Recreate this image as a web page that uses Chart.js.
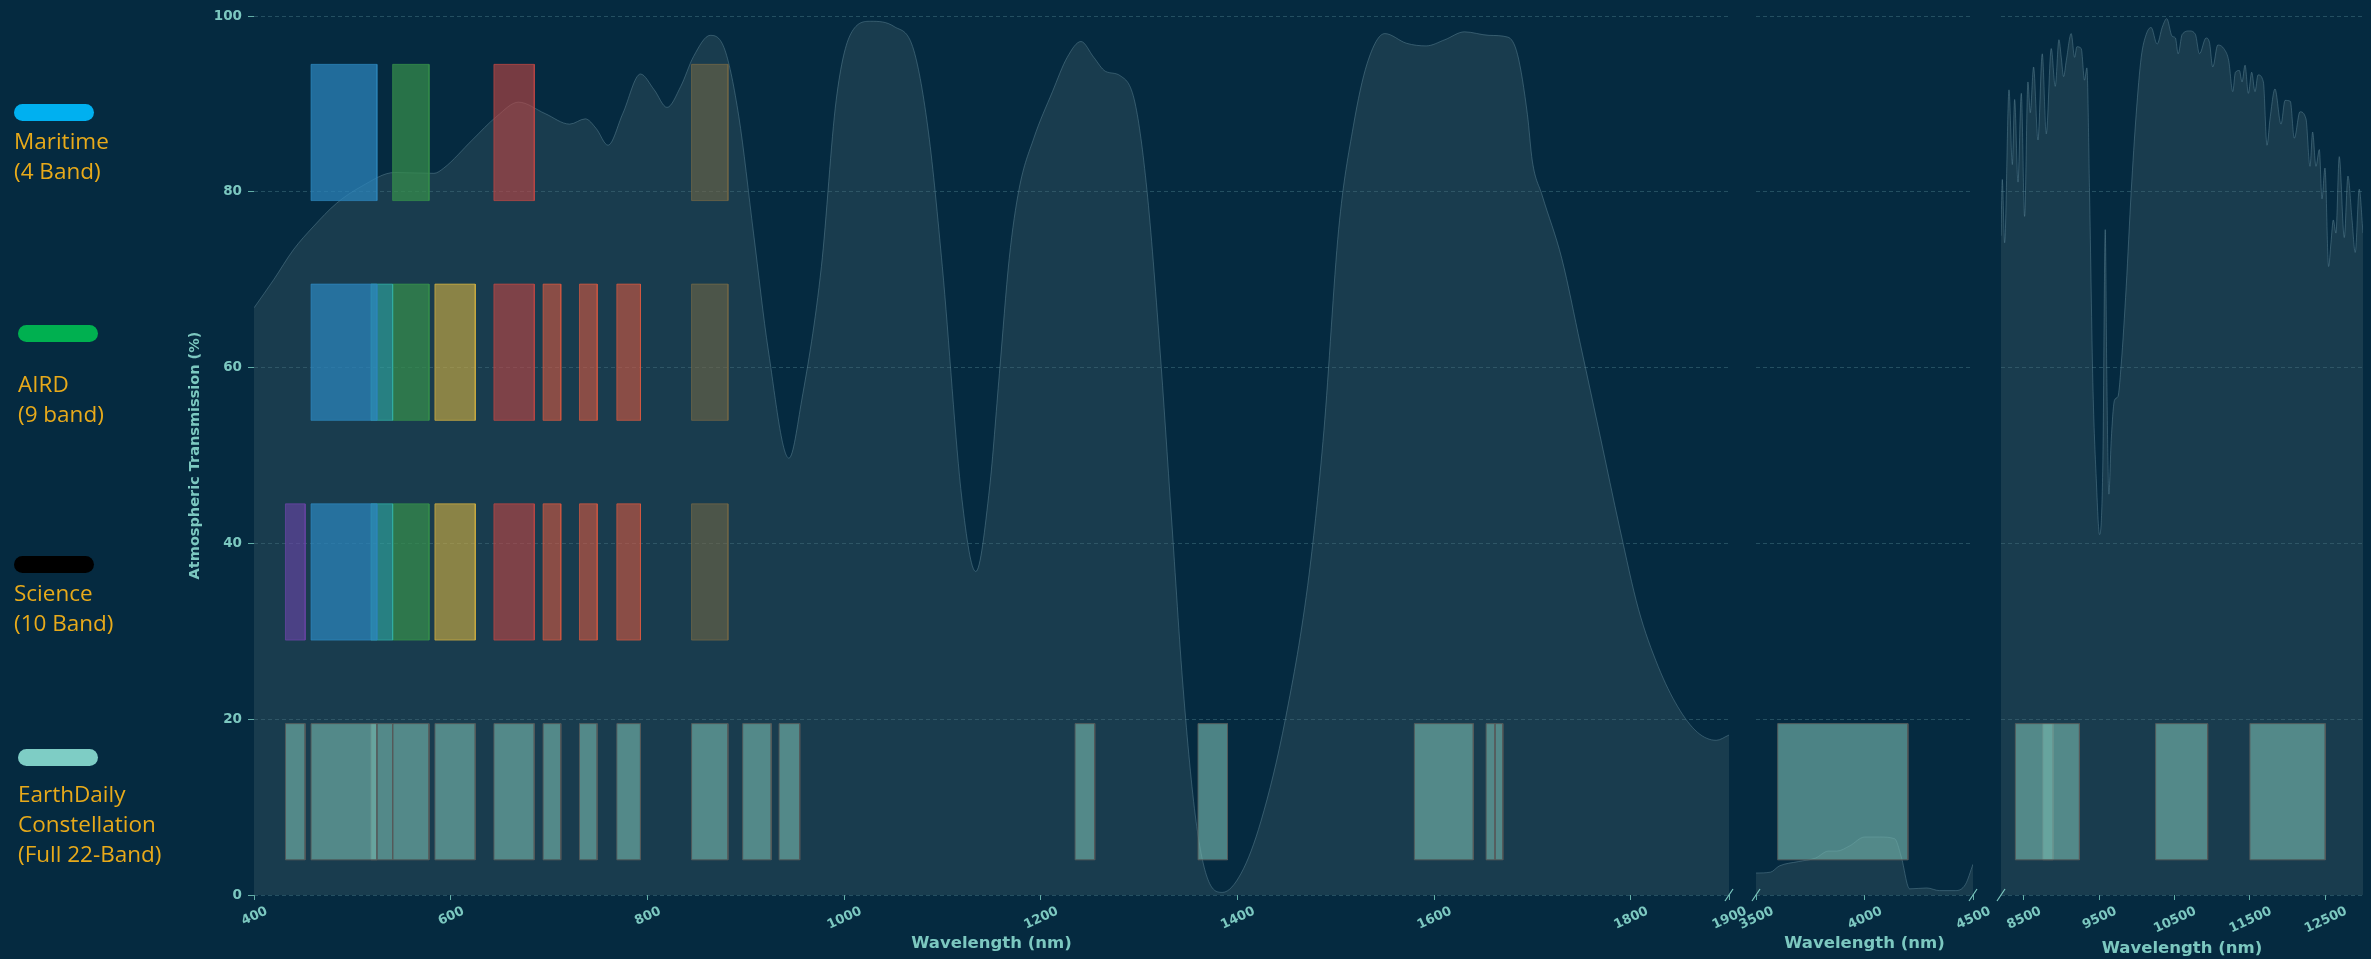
<!DOCTYPE html>
<html>
<head>
<meta charset="utf-8">
<title>Band sets vs atmospheric transmission</title>
<script src="https://cdn.jsdelivr.net/npm/chart.js@4.4.1/dist/chart.umd.min.js"></script>
<style>
  html, body { margin: 0; padding: 0; background: #052a40; }
  #wrap { position: relative; width: 2371px; height: 959px; overflow: hidden; }
  #wrap canvas { position: absolute; left: 0; top: 0; }
  .pill { position: absolute; width: 80px; height: 17px; border-radius: 9px; }
  .lbl { position: absolute; color: #e8aa1a; font-family: 'Open Sans', sans-serif; font-size: 22.5px; line-height: 30px; white-space: nowrap; }
</style>
</head>
<body>
<div id="wrap">
  <canvas id="c-vnir" width="2371" height="959"></canvas>
  <canvas id="c-mwir" width="2371" height="959"></canvas>
  <canvas id="c-lwir" width="2371" height="959"></canvas>
</div>
<script>
// ---- data ----
// transmission curve, 400-1900 nm
const vnirWl = [
  400, 420, 440, 460, 484, 509, 543, 583, 593, 622,
  647, 669, 696, 721, 737, 748, 760, 775, 793, 807,
  820, 834, 847, 864, 879, 893, 908, 923, 944, 957,
  977, 992, 1007, 1027, 1051, 1071, 1086, 1100, 1120, 1134,
  1148, 1158, 1168, 1178, 1193, 1212, 1227, 1241, 1254, 1266,
  1281, 1296, 1308, 1321, 1333, 1345, 1358, 1370, 1385, 1404,
  1424, 1449, 1473, 1488, 1503, 1518, 1532, 1550, 1572, 1592,
  1611, 1631, 1656, 1675, 1685, 1695, 1700, 1710, 1730, 1749,
  1769, 1789, 1808, 1828, 1848, 1868, 1887, 1900
];
const vnirT = [
  66.8, 70.0, 73.4, 76.0, 78.7, 80.6, 82.2, 82.1, 82.7, 85.9,
  88.6, 90.2, 88.9, 87.7, 88.3, 87.2, 85.3, 88.9, 93.4, 91.6,
  89.6, 92.0, 95.4, 97.8, 96.1, 88.6, 75.3, 62.0, 49.7, 56.3,
  71.5, 90.4, 98.0, 99.4, 98.8, 96.1, 86.7, 71.5, 45.0, 36.8,
  46.3, 59.3, 72.4, 80.3, 86.1, 91.4, 95.3, 97.1, 95.3, 93.7,
  93.2, 90.1, 80.3, 62.6, 43.0, 23.4, 8.4, 1.8, 0.3, 2.5,
  8.4, 20.1, 36.5, 52.8, 75.7, 87.5, 94.6, 98.0, 96.9, 96.6,
  97.3, 98.2, 97.8, 97.6, 95.6, 88.8, 83.5, 79.6, 72.4, 62.6,
  52.2, 41.7, 32.5, 26.0, 21.4, 18.5, 17.6, 18.2
];

// transmission curve, 3500-4500 nm
const mwirWl = [3500, 3567, 3607, 3695, 3774, 3834, 3873, 3932, 4001, 4070, 4139, 4169, 4208, 4287, 4346, 4419, 4465, 4500];
const mwirT  = [2.5, 2.6, 3.3, 3.8, 4.2, 5.0, 5.0, 5.6, 6.6, 6.6, 6.4, 4.4, 0.7, 0.8, 0.5, 0.5, 1.2, 3.5];

// transmission curve, 8200-13000 nm
const lwirWl = [
  8200, 8217, 8248, 8306, 8350, 8381, 8425, 8469, 8513, 8557,
  8588, 8632, 8690, 8747, 8800, 8866, 8919, 8968, 8999, 9030,
  9065, 9131, 9176, 9206, 9264, 9308, 9339, 9374, 9418, 9463,
  9507, 9551, 9582, 9604, 9630, 9661, 9705, 9750, 9794, 9860,
  9926, 9992, 10059, 10125, 10191, 10270, 10337, 10398, 10469, 10513,
  10549, 10602, 10699, 10778, 10831, 10919, 10964, 11008, 11074, 11162,
  11220, 11273, 11308, 11361, 11396, 11436, 11480, 11524, 11568, 11608,
  11679, 11727, 11767, 11833, 11913, 11966, 12036, 12089, 12164, 12244,
  12297, 12332, 12376, 12421, 12456, 12496, 12544, 12575, 12606, 12641,
  12685, 12752, 12800, 12853, 12897, 12950, 13000
];
const lwirT = [
  75.0, 81.4, 74.2, 91.6, 83.1, 90.5, 81.1, 91.2, 77.2, 92.5,
  89.0, 94.2, 85.9, 95.7, 86.6, 96.3, 92.0, 97.3, 95.3, 93.1,
  94.9, 98.0, 95.3, 96.5, 96.3, 92.7, 94.1, 80.0, 58.3, 47.4,
  41.0, 49.5, 75.7, 58.3, 45.6, 51.7, 56.3, 56.7, 60.4, 69.2,
  80.0, 88.8, 95.3, 97.9, 98.7, 96.8, 98.7, 99.7, 97.7, 97.5,
  95.7, 97.9, 98.3, 97.9, 95.7, 97.5, 97.0, 94.2, 96.7, 96.2,
  94.9, 91.4, 93.6, 93.8, 92.5, 94.4, 91.2, 93.6, 91.4, 93.3,
  92.5, 85.3, 88.3, 91.7, 87.7, 90.4, 90.3, 86.1, 89.1, 88.3,
  82.9, 86.8, 82.9, 84.8, 79.2, 82.7, 71.5, 74.2, 76.8, 75.3,
  84.0, 74.8, 81.8, 77.0, 73.1, 80.3, 75.3
];

// spectral bands (nm)
const bandNames = ['Coastal', 'Blue', 'Green I', 'Green', 'Yellow', 'Red', 'Red Edge 1', 'Red Edge 2', 'Red Edge 3', 'NIR'];
const bandLo    = [432, 458, 519, 541, 584, 644, 694, 731, 769, 845];
const bandHi    = [452, 525, 541, 578, 625, 685, 712, 749, 793, 882];

const maritimeBands = ['Blue', 'Green', 'Red', 'NIR'];
const airdBands     = ['Blue', 'Green I', 'Green', 'Yellow', 'Red', 'Red Edge 1', 'Red Edge 2', 'Red Edge 3', 'NIR'];
const scienceBands  = ['Coastal', 'Blue', 'Green I', 'Green', 'Yellow', 'Red', 'Red Edge 1', 'Red Edge 2', 'Red Edge 3', 'NIR'];

// EarthDaily constellation, all 22 bands
const edLo = [432, 458, 519, 541, 584, 644, 694, 731, 769, 845, 897, 934, 1235, 1360, 1580, 1653, 1662, 3600, 8390, 8755, 10250, 11500];
const edHi = [452, 525, 541, 578, 625, 685, 712, 749, 793, 882, 926, 955, 1255, 1390, 1640, 1662, 1670, 4200, 9240, 8890, 10940, 12500];

// rows (transmission % units on the y axis)
const rowLo = [79, 54, 29, 4];
const rowHi = [94.5, 69.5, 44.5, 19.5];

const groupLines  = [['Maritime', '(4 Band)'], ['AIRD', '(9 band)'], ['Science', '(10 Band)'], ['EarthDaily', 'Constellation', '(Full 22-Band)']];
const groupSwatch = ['#00b0f0', '#00b050', '#000000', '#7ecdc5'];

const ticksVnir = [400, 600, 800, 1000, 1200, 1400, 1600, 1800, 1900];
const ticksMwir = [3500, 4000, 4500];
const ticksLwir = [8500, 9500, 10500, 11500, 12500];

// ---- styling ----
const bandRgb = {
  'Coastal':    [110, 70, 170, 0.6],
  'Blue':       [45, 135, 190, 0.72],
  'Green I':    [50, 175, 165, 0.6],
  'Green':      [55, 145, 75, 0.7],
  'Yellow':     [215, 180, 65, 0.6],
  'Red':        [195, 72, 68, 0.6],
  'Red Edge 1': [215, 90, 65, 0.6],
  'Red Edge 2': [215, 90, 65, 0.6],
  'Red Edge 3': [215, 90, 65, 0.6],
  'NIR':        [120, 105, 70, 0.55]
};
const tealText = '#7cc8c0';
const tickMark = '#62aea6';
const gridColor = 'rgba(95,150,160,0.35)';
const DEG = Math.PI / 180;

// legend on the left
const pillLeft = [14, 18, 14, 18];
const pillTop = [104, 325, 556, 749];
const textTop = [126, 369, 578, 779];
const wrap = document.getElementById('wrap');
groupLines.forEach((lines, i) => {
  const pill = document.createElement('div');
  pill.className = 'pill';
  pill.style.left = pillLeft[i] + 'px';
  pill.style.top = pillTop[i] + 'px';
  pill.style.background = groupSwatch[i];
  wrap.appendChild(pill);
  const lbl = document.createElement('div');
  lbl.className = 'lbl';
  lbl.style.left = pillLeft[i] + 'px';
  lbl.style.top = textTop[i] + 'px';
  lbl.innerHTML = lines.join('<br>');
  wrap.appendChild(lbl);
});

// rotated, centred tick labels + axis break marks
const axisDecor = {
  id: 'axisDecor',
  afterDraw(chart, args, opts) {
    const ctx = chart.ctx;
    const xs = chart.scales.x;
    const base = chart.chartArea.bottom;
    const rot = opts.rotation * DEG;
    ctx.save();
    ctx.fillStyle = tealText;
    ctx.font = "bold 13px 'DejaVu Sans', sans-serif";
    ctx.textAlign = 'center';
    ctx.textBaseline = 'alphabetic';
    xs.ticks.forEach(t => {
      const label = String(t.value);
      const w = ctx.measureText(label).width;
      const h = 9.5;
      const boxH = w * Math.sin(rot) + h * Math.cos(rot);
      ctx.save();
      ctx.translate(xs.getPixelForValue(t.value), base + 10 + boxH / 2);
      ctx.rotate(-rot);
      ctx.fillText(label, 0, h / 2);
      ctx.restore();
    });
    ctx.strokeStyle = tealText;
    ctx.lineWidth = 1.2;
    (opts.breaks || []).forEach(side => {
      const x = side === 'left' ? xs.left : xs.right;
      ctx.beginPath();
      ctx.moveTo(x - 4, base + 6);
      ctx.lineTo(x + 4, base - 6);
      ctx.stroke();
    });
    ctx.restore();
  }
};

function rgba(c, a) {
  return `rgba(${c[0]},${c[1]},${c[2]},${a})`;
}

function boxPoints(lo, hi, yLo, yHi) {
  return [{x: lo, y: yLo}, {x: lo, y: yHi}, {x: hi, y: yHi}, {x: hi, y: yLo}, {x: lo, y: yLo}];
}

function bandDatasets(xMin, xMax) {
  const out = [];
  const rows = [maritimeBands, airdBands, scienceBands];
  rows.forEach((names, r) => {
    names.forEach(name => {
      const i = bandNames.indexOf(name);
      if (bandLo[i] < xMin || bandHi[i] > xMax) return;
      const c = bandRgb[name];
      out.push({
        data: boxPoints(bandLo[i], bandHi[i], rowLo[r], rowHi[r]),
        backgroundColor: rgba(c, c[3]),
        borderColor: rgba(c, 0.7),
        borderWidth: 1,
        fill: 'shape',
        tension: 0,
        pointRadius: 0
      });
    });
  });
  edLo.forEach((lo, i) => {
    if (lo < xMin || edHi[i] > xMax) return;
    out.push({
      data: boxPoints(lo, edHi[i], rowLo[3], rowHi[3]),
      backgroundColor: 'rgba(115,180,170,0.65)',
      borderColor: 'rgba(85,90,90,0.9)',
      borderWidth: 1,
      fill: 'shape',
      tension: 0,
      pointRadius: 0
    });
  });
  return out;
}

function makeChart(id, wl, trans, xMin, xMax, xTicks, pad, axisH, titlePadBottom, showY, breaks) {
  const datasets = bandDatasets(xMin, xMax);
  datasets.push({
    data: wl.map((x, i) => ({x, y: trans[i]})),
    borderColor: 'rgba(100,140,155,0.45)',
    borderWidth: 1,
    backgroundColor: 'rgba(72,102,114,0.3)',
    fill: 'origin',
    pointRadius: 0,
    tension: 0.4,
    cubicInterpolationMode: 'monotone'
  });

  return new Chart(document.getElementById(id), {
    type: 'line',
    data: { datasets },
    plugins: [axisDecor],
    options: {
      responsive: false,
      animation: false,
      events: [],
      layout: { padding: pad, autoPadding: false },
      plugins: {
        legend: { display: false },
        tooltip: { enabled: false },
        axisDecor: { rotation: 25, breaks }
      },
      scales: {
        x: {
          type: 'linear',
          min: xMin,
          max: xMax,
          afterBuildTicks: s => { s.ticks = xTicks.map(v => ({value: v})); },
          ticks: { display: false },
          grid: { drawOnChartArea: false, drawTicks: true, tickLength: 5, tickColor: tickMark, color: tickMark },
          border: { display: false },
          title: {
            display: true,
            text: 'Wavelength (nm)',
            color: tealText,
            font: { family: "'DejaVu Sans', sans-serif", size: 16.5, weight: 'bold' },
            padding: { top: 0, bottom: titlePadBottom }
          },
          afterFit: s => { s.height = axisH; }
        },
        y: {
          min: 0,
          max: 100,
          ticks: {
            display: showY,
            stepSize: 20,
            color: tealText,
            padding: 6,
            font: { family: "'DejaVu Sans', sans-serif", size: 13.5, weight: 'bold' }
          },
          grid: { color: gridColor, lineWidth: 1, drawTicks: showY, tickLength: 6, tickColor: tickMark },
          border: { display: false, dash: [4, 3] },
          title: {
            display: showY,
            text: 'Atmospheric Transmission (%)',
            color: tealText,
            font: { family: "'DejaVu Sans', sans-serif", size: 14.5, weight: 'bold' },
            padding: { top: 3, bottom: 0 }
          },
          afterFit: s => { s.width = showY ? 70 : 0; }
        }
      }
    }
  });
}

makeChart('c-vnir', vnirWl, vnirT, 400, 1900, ticksVnir, {left: 184, right: 642, top: 16, bottom: 1}, 63, 4, true, ['right']);
makeChart('c-mwir', mwirWl, mwirT, 3500, 4500, ticksMwir, {left: 1756, right: 398, top: 16, bottom: 1}, 63, 4, false, ['left', 'right']);
makeChart('c-lwir', lwirWl, lwirT, 8200, 13000, ticksLwir, {left: 2001, right: 8, top: 16, bottom: 0}, 64, 0, false, ['left']);
</script>
</body>
</html>
